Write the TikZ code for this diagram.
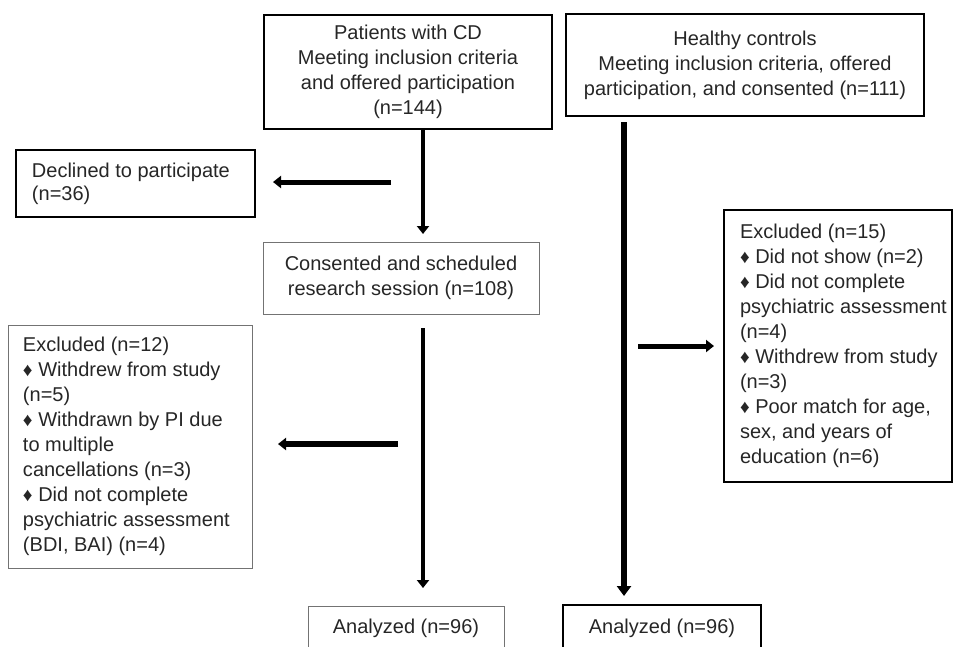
\documentclass[tikz,border=0pt]{standalone}
\usepackage{fontspec}
\setmainfont{Liberation Sans}
\usetikzlibrary{arrows.meta}
\newcommand{\dia}{{\fontsize{19}{19}\selectfont ♦}}
\begin{document}
\begin{tikzpicture}[x=1pt,y=-1pt,
  base/.style={rectangle,inner sep=0pt,font=\fontsize{20}{25}\selectfont,text=black!85},
  thickbox/.style={base,draw=black,line width=1.8pt},
  thinbox/.style={base,draw=black!55,line width=0.9pt},
  flow/.style={line width=5pt,-{Triangle[width=12pt,length=8pt]}},
  bigflow/.style={line width=6.5pt,-{Triangle[width=14pt,length=10pt]}}]
\useasboundingbox (0,0) rectangle (955,646);
\clip (0,0) rectangle (955,646);
% boxes
\node[thickbox,minimum width=288pt,minimum height=114pt,align=center] (pat) at (408,72)
  {Patients with CD\\Meeting inclusion criteria\\and offered participation\\(n=144)};
\node[thickbox,minimum width=358pt,minimum height=102pt,align=center] (hc) at (745,65)
  {Healthy controls\\Meeting inclusion criteria, offered\\participation, and consented (n=111)};
\node[thickbox,minimum width=239pt,minimum height=67pt,text width=239pt,align=flush left,
  font=\fontsize{20}{23}\selectfont] (dec) at (135.5,183.5)
  {\leftskip=16pt Declined to participate\\(n=36)\par};
\node[thinbox,minimum width=276pt,minimum height=72pt,align=center] (cons) at (401,278)
  {Consented and scheduled\\research session (n=108)};
\node[thinbox,minimum width=244pt,minimum height=243pt,text width=244pt,align=flush left] (exa) at (130,446.5)
  {\leftskip=15pt Excluded (n=12)\\\dia{} Withdrew from study\\(n=5)\\\dia{} Withdrawn by PI due\\to multiple\\cancellations (n=3)\\\dia{} Did not complete\\psychiatric assessment\\(BDI, BAI) (n=4)\par};
\node[thickbox,minimum width=228pt,minimum height=272pt,text width=228pt,align=flush left] (exb) at (838,346)
  {\leftskip=16pt Excluded (n=15)\\\dia{} Did not show (n=2)\\\dia{} Did not complete\\psychiatric assessment\\(n=4)\\\dia{} Withdrew from study\\(n=3)\\\dia{} Poor match for age,\\sex, and years of\\education (n=6)\par};
\node[thinbox,minimum width=196pt,minimum height=44pt] (ana) at (406,628) {Analyzed (n=96)};
\node[thickbox,minimum width=198pt,minimum height=46pt] (anb) at (662,628) {Analyzed (n=96)};
% connector end points
\coordinate (a1s) at (423,129);
\coordinate (a1e) at (423,234);
\coordinate (a2s) at (391,182);
\coordinate (a2e) at (273,182);
\coordinate (a3s) at (423,328);
\coordinate (a3e) at (423,588);
\coordinate (a4s) at (398,444);
\coordinate (a4e) at (278,444);
\coordinate (a5s) at (624,122);
\coordinate (a5e) at (624,596);
\coordinate (a6s) at (638,346);
\coordinate (a6e) at (714,346);
\draw[flow,line width=4.5pt] (a1s) -- (a1e);
\draw[flow] (a2s) -- (a2e);
\draw[flow,line width=4.5pt] (a3s) -- (a3e);
\draw[flow,line width=5.5pt] (a4s) -- (a4e);
\draw[bigflow] (a5s) -- (a5e);
\draw[flow] (a6s) -- (a6e);
\end{tikzpicture}
\end{document}
